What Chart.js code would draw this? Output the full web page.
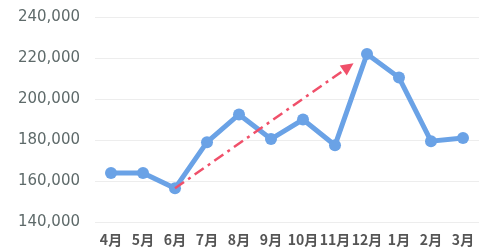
<!DOCTYPE html>
<html>
<head>
<meta charset="utf-8">
<script src="https://cdn.jsdelivr.net/npm/chart.js@4"></script>
<style>
    html, body { margin: 0; padding: 0; background: #fff; }
    #wrap { width: 479px; height: 249px; }
</style>
</head>
<body>
<div id="wrap"><canvas id="ventasChart"></canvas></div>
<script>
// Datos del gráfico
const meses = ["4月", "5月", "6月", "7月", "8月", "9月", "10月", "11月", "12月", "1月", "2月", "3月"];
const ventas = [164000, 164000, 156500, 179000, 192500, 180500, 190000, 177500, 222000, 210500, 179500, 181000];
const ejeY = [140000, 160000, 180000, 200000, 220000, 240000];
// flecha: desde 6月 hacia 12月
const flechaDesde = 2;
const flechaHasta = 8;

// Plugin para dibujar la flecha punteada
const flechaPlugin = {
    id: "flecha",
    afterDatasetsDraw(chart) {
        const { ctx, scales } = chart;
        const x0 = scales.x.getPixelForValue(flechaDesde);
        const y0 = scales.y.getPixelForValue(ventas[flechaDesde]);
        const x2 = scales.x.getPixelForValue(flechaHasta);
        const y2 = scales.y.getPixelForValue(ventas[flechaHasta]);
        const t = 0.93;
        const x1 = x0 + (x2 - x0) * t;
        const y1 = y0 + (y2 - y0) * t;
        const ang = Math.atan2(y1 - y0, x1 - x0);
        const head = 14;

        ctx.save();
        ctx.strokeStyle = "#f0506a";
        ctx.fillStyle = "#f0506a";
        ctx.lineWidth = 2.5;
        ctx.setLineDash([11, 5, 3, 5]);
        ctx.beginPath();
        ctx.moveTo(x0, y0);
        ctx.lineTo(x1 - Math.cos(ang) * head * 0.8, y1 - Math.sin(ang) * head * 0.8);
        ctx.stroke();
        ctx.setLineDash([]);
        ctx.beginPath();
        ctx.moveTo(x1, y1);
        ctx.lineTo(x1 - head * Math.cos(ang - 0.45), y1 - head * Math.sin(ang - 0.45));
        ctx.lineTo(x1 - head * Math.cos(ang + 0.45), y1 - head * Math.sin(ang + 0.45));
        ctx.closePath();
        ctx.fill();
        ctx.restore();
    },
};

new Chart(document.getElementById("ventasChart"), {
    type: "line",
    data: {
        labels: meses,
        datasets: [
            {
                data: ventas,
                borderColor: "#6aa2e6",
                backgroundColor: "#6aa2e6",
                borderWidth: 5,
                pointRadius: 6,
                pointBorderWidth: 0,
                tension: 0,
            },
        ],
    },
    options: {
        responsive: true,
        maintainAspectRatio: false,
        animation: false,
        layout: { autoPadding: false, padding: { left: 0, right: 0, top: 17, bottom: 0 } },
        plugins: {
            legend: { display: false },
            tooltip: { enabled: false },
        },
        scales: {
            y: {
                min: ejeY[0],
                max: ejeY[ejeY.length - 1],
                afterBuildTicks: (axis) => {
                    axis.ticks = ejeY.map((v) => ({ value: v }));
                },
                afterFit: (axis) => {
                    axis.width = 95;
                    axis.paddingTop = 0;
                    axis.paddingBottom = 0;
                },
                border: { display: false },
                grid: { color: "#ededed", lineWidth: 1, drawTicks: false },
                ticks: {
                    padding: 15,
                    color: "#5e6a6a",
                    font: { family: "DejaVu Sans", size: 15 },
                    callback: (v) => v.toLocaleString("en-US"),
                },
            },
            x: {
                offset: true,
                afterFit: (axis) => {
                    axis.paddingLeft = 0;
                    axis.paddingRight = 0;
                },
                border: { display: false },
                grid: { display: false },
                ticks: {
                    color: "#555",
                    maxRotation: 0,
                    autoSkip: false,
                    padding: 1,
                    font: { family: "Noto Sans CJK JP", size: 14, weight: "bold" },
                },
            },
        },
    },
    plugins: [flechaPlugin],
});
</script>
</body>
</html>
